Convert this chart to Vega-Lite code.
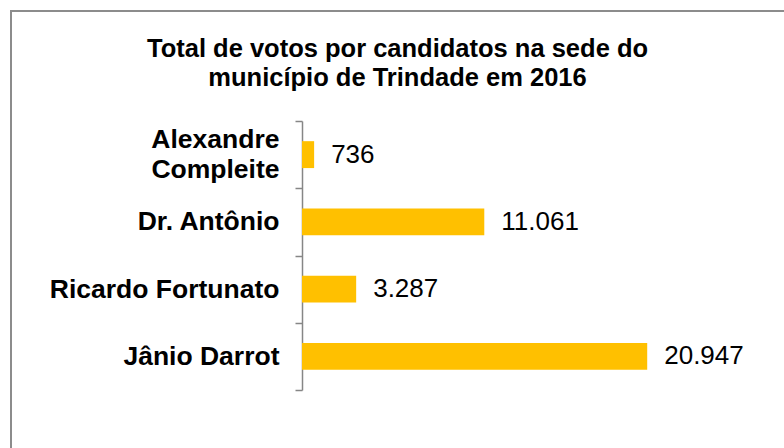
{
  "$schema": "https://vega.github.io/schema/vega-lite/v6.json",
  "width": 773,
  "height": 437,
  "autosize": {"type": "none"},
  "padding": {"left": 11, "top": 11, "right": 0, "bottom": 0},
  "background": "white",
  "config": {
    "view": {"stroke": "#8c8c8c", "strokeWidth": 2, "strokeDash": [773, 1210, 437, 100]},
    "font": "Liberation Sans",
    "locale": {"number": {"decimal": ",", "thousands": ".", "grouping": [3], "currency": ["R$", ""]}}
  },
  "title": {
    "text": ["Total de votos por candidatos na sede do", "município de Trindade em 2016"],
    "anchor": "middle",
    "frame": "group",
    "fontSize": 25.5,
    "fontWeight": "bold",
    "color": "black",
    "lineHeight": 29,
    "dy": 97,
    "font": "Liberation Sans"
  },
  "data": {
    "values": [
      {"candidato": "Alexandre Compleite", "votos": 736},
      {"candidato": "Dr. Antônio", "votos": 11061},
      {"candidato": "Ricardo Fortunato", "votos": 3287},
      {"candidato": "Jânio Darrot", "votos": 20947}
    ]
  },
  "encoding": {
    "y": {
      "field": "candidato",
      "type": "nominal",
      "sort": null,
      "scale": {"range": [110, 379], "paddingInner": 0, "paddingOuter": 0},
      "axis": {
        "title": null,
        "orient": "left",
        "offset": -291,
        "tickBand": "extent",
        "tickSize": 7,
        "tickColor": "#868686",
        "tickWidth": 1.5,
        "domainColor": "#868686",
        "domainWidth": 1.5,
        "labelFontSize": 26.5,
        "labelFontWeight": "bold",
        "labelColor": "black",
        "labelPadding": 16,
        "labelLineHeight": 30,
        "labelLimit": 400,
        "labelOffset": {"condition": {"test": "datum.value == 'Alexandre Compleite'", "value": -15}, "value": 0},
        "labelExpr": "datum.value == 'Alexandre Compleite' ? ['Alexandre', 'Compleite'] : datum.label"
      }
    },
    "x": {
      "field": "votos",
      "type": "quantitative",
      "scale": {"domain": [0, 25000], "range": [291, 703], "nice": false, "zero": true},
      "axis": null
    }
  },
  "layer": [
    {"mark": {"type": "bar", "color": "#FFC000", "height": {"band": 0.4}}},
    {
      "mark": {"type": "text", "align": "left", "baseline": "middle", "dx": 17, "fontSize": 26, "color": "black"},
      "encoding": {"text": {"field": "votos", "type": "quantitative", "format": ",d"}}
    }
  ]
}
